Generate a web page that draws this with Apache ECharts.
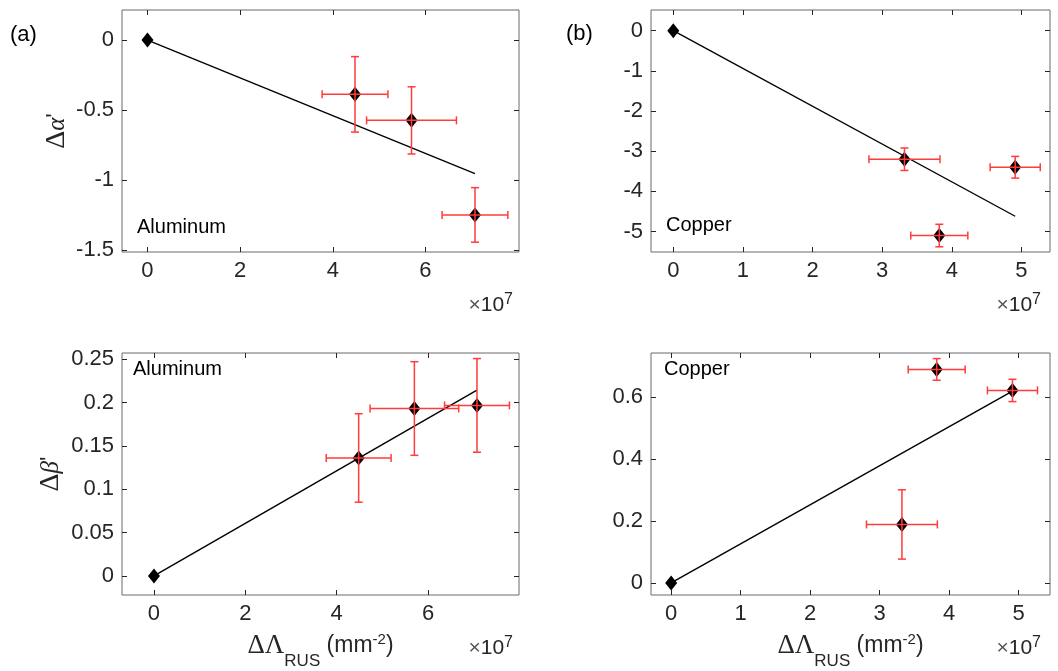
<!DOCTYPE html>
<html><head><meta charset="utf-8">
<script src="https://cdn.jsdelivr.net/npm/echarts@6/dist/echarts.min.js"></script>
<style>html,body{margin:0;padding:0;background:#fff}#c{width:1058px;height:671px}</style>
</head><body><div id="c"></div>
<script>
// ---- data (x in units of 1e7 mm^-2) ----
const alX = [0, 4.48, 5.70, 7.07];
const alXErr = [0, 0.71, 0.97, 0.71];
const alAlpha = [0, -0.388, -0.574, -1.25];
const alAlphaErr = [0, 0.27, 0.24, 0.195];
const alBeta = [0, 0.136, 0.193, 0.1966];
const alBetaErr = [0, 0.051, 0.054, 0.054];
const alFitX = [0, 7.07];
const alFitAlpha = [0, -0.955];
const alFitBeta = [0, 0.2143];

const cuX = [0, 3.32, 3.82, 4.91];
const cuXErr = [0, 0.51, 0.41, 0.36];
const cuAlpha = [0, -3.2, -5.1, -3.4];
const cuAlphaErr = [0, 0.28, 0.28, 0.27];
const cuBeta = [0, 0.189, 0.690, 0.622];
const cuBetaErr = [0, 0.112, 0.035, 0.036];
const cuFitX = [0, 4.91];
const cuFitAlpha = [0, -4.62];
const cuFitBeta = [0, 0.62];

const alXTicks = [0, 2, 4, 6];
const cuXTicks = [0, 1, 2, 3, 4, 5];
const alAlphaTicks = [-1.5, -1, -0.5, 0];
const cuAlphaTicks = [-5, -4, -3, -2, -1, 0];
const alBetaTicks = [0, 0.05, 0.1, 0.15, 0.2, 0.25];
const cuBetaTicks = [0, 0.2, 0.4, 0.6];

const panelLabels = ['(a)', '(b)'];
const materials = ['Aluminum', 'Copper'];

// ---- styling ----
const FONT = '"Liberation Sans", Arial, Helvetica, sans-serif';
const SERIF = '"Liberation Serif", "Times New Roman", serif';
const TXT = '#262626';
const BOX = '#6a6a6a';

const panels = [
  { grid: {left:122, top:10, width:397, height:242}, xr:[-0.55, 8.02], yr:[-1.515, 0.215],
    xt: alXTicks, yt: alAlphaTicks, xs: alX, xe: alXErr, ys: alAlpha, ye: alAlphaErr,
    fx: alFitX, fy: alFitAlpha, yname: '{g|Δ}{a|α}{t|\'}', ygap: 49, xname: false },
  { grid: {left:651, top:10, width:399, height:242}, xr:[-0.32, 5.41], yr:[-5.51, 0.515],
    xt: cuXTicks, yt: cuAlphaTicks, xs: cuX, xe: cuXErr, ys: cuAlpha, ye: cuAlphaErr,
    fx: cuFitX, fy: cuFitAlpha, yname: '', xname: false },
  { grid: {left:122, top:353, width:397, height:242}, xr:[-0.70, 7.99], yr:[-0.022, 0.257],
    xt: alXTicks, yt: alBetaTicks, xs: alX, xe: alXErr, ys: alBeta, ye: alBetaErr,
    fx: alFitX, fy: alFitBeta, yname: '{g|Δ}{a|β}{t|\'}', ygap: 55, xname: true },
  { grid: {left:651, top:353, width:399, height:242}, xr:[-0.29, 5.45], yr:[-0.039, 0.743],
    xt: cuXTicks, yt: cuBetaTicks, xs: cuX, xe: cuXErr, ys: cuBeta, ye: cuBetaErr,
    fx: cuFitX, fy: cuFitBeta, yname: '', xname: true }
];

const xNameRich = {
  g: {fontFamily: SERIF, fontSize: 27, lineHeight: 48, color: TXT},
  t: {fontFamily: FONT, fontSize: 23, lineHeight: 48, color: TXT},
  sub: {fontFamily: FONT, fontSize: 17, lineHeight: 17, verticalAlign: 'bottom', color: TXT},
  sup: {fontFamily: FONT, fontSize: 15, verticalAlign: 'top', padding: [10, 0, 0, 0], color: TXT}
};
const yNameRich = {
  g: {fontFamily: SERIF, fontSize: 28, lineHeight: 32, color: TXT},
  a: {fontFamily: SERIF, fontStyle: 'italic', fontSize: 25, lineHeight: 32, color: TXT},
  t: {fontFamily: FONT, fontSize: 23, lineHeight: 32, color: TXT}
};

function axis(pos, gi, range, ticks, showLabel, extra) {
  return Object.assign({
    type: 'value', gridIndex: gi, position: pos, min: range[0], max: range[1],
    axisLine: {show: false, onZero: false}, splitLine: {show: false},
    axisTick: {show: true, inside: true, length: 5, customValues: ticks,
               lineStyle: {color: TXT, width: 1}},
    axisLabel: {show: showLabel, customValues: ticks, color: TXT, fontSize: 22,
                fontFamily: FONT, margin: 8}
  }, extra || {});
}

function errSeries(xi, yi, xs, ys, xe, ye) {
  return {
    type: 'custom', xAxisIndex: xi, yAxisIndex: yi, z: 5, silent: true,
    data: xs.map((x, i) => [x, ys[i], xe[i], ye[i]]),
    renderItem(params, api) {
      const x = api.value(0), y = api.value(1), dx = api.value(2), dy = api.value(3);
      if (!dx && !dy) return null;
      const c = api.coord([x, y]);
      const l = api.coord([x - dx, y]), r = api.coord([x + dx, y]);
      const t = api.coord([x, y + dy]), b = api.coord([x, y - dy]);
      const cap = 4;
      const st = {stroke: '#ff3b3b', lineWidth: 1.5};
      const ln = (x1, y1, x2, y2) => ({type: 'line', shape: {x1, y1, x2, y2}, style: st});
      return {type: 'group', children: [
        ln(l[0], c[1], r[0], c[1]),
        ln(l[0], c[1] - cap, l[0], c[1] + cap),
        ln(r[0], c[1] - cap, r[0], c[1] + cap),
        ln(c[0], t[1], c[0], b[1]),
        ln(c[0] - cap, t[1], c[0] + cap, t[1]),
        ln(c[0] - cap, b[1], c[0] + cap, b[1])
      ]};
    }
  };
}

const grids = [], xAxes = [], yAxes = [], series = [], graphics = [];
panels.forEach((p, i) => {
  grids.push(Object.assign({show: true, borderColor: BOX, borderWidth: 1, backgroundColor: '#fff'}, p.grid));
  const xExtra = p.xname ? {
    name: '{g|ΔΛ}{sub|RUS}{t| (mm}{sup|-2}{t|)}', nameLocation: 'middle', nameGap: 27,
    nameTextStyle: {rich: xNameRich}
  } : {};
  xAxes.push(axis('bottom', i, p.xr, p.xt, true, xExtra));
  xAxes.push(axis('top', i, p.xr, p.xt, false));
  const yExtra = p.yname ? {
    name: p.yname, nameLocation: 'middle', nameRotate: 90, nameGap: p.ygap,
    nameTextStyle: {rich: yNameRich}
  } : {};
  yAxes.push(axis('left', i, p.yr, p.yt, true, yExtra));
  yAxes.push(axis('right', i, p.yr, p.yt, false));

  series.push({
    type: 'line', xAxisIndex: 2 * i, yAxisIndex: 2 * i, z: 2, silent: true,
    data: p.fx.map((x, k) => [x, p.fy[k]]), symbol: 'none',
    lineStyle: {color: '#000', width: 1.4}
  });
  series.push({
    type: 'scatter', xAxisIndex: 2 * i, yAxisIndex: 2 * i, z: 3, silent: true,
    data: p.xs.map((x, k) => [x, p.ys[k]]), symbol: 'diamond', symbolSize: [12, 15],
    itemStyle: {color: '#000', opacity: 1}
  });
  series.push(errSeries(2 * i, 2 * i, p.xs, p.ys, p.xe, p.ye));

  // x10^7 exponent label
  const right = p.grid.left + p.grid.width - (i % 2 === 0 ? 6 : 9);
  const ymid = p.grid.top + p.grid.height + 53;
  graphics.push({
    type: 'text', z: 10,
    style: {
      x: right, y: ymid, align: 'right', verticalAlign: 'middle',
      text: '{x|×}{n|10}{s|7}',
      rich: {
        x: {fontFamily: FONT, fontSize: 21, lineHeight: 26, fill: '#555'},
        n: {fontFamily: FONT, fontSize: 21, lineHeight: 26, fill: TXT},
        s: {fontFamily: FONT, fontSize: 16, lineHeight: 18, verticalAlign: 'top', fill: TXT}
      }
    }
  });
});

// panel letters
graphics.push({type: 'text', style: {x: 10, y: 35, text: panelLabels[0], fontFamily: FONT, fontSize: 22, fill: '#000', verticalAlign: 'middle'}});
graphics.push({type: 'text', style: {x: 566, y: 34, text: panelLabels[1], fontFamily: FONT, fontSize: 22, fill: '#000', verticalAlign: 'middle'}});
// material labels
const matPos = [[137, 227, 0], [666, 225, 1], [133, 369, 0], [664, 369, 1]];
matPos.forEach(m => graphics.push({type: 'text', z: 10, style: {x: m[0], y: m[1], text: materials[m[2]], fontFamily: FONT, fontSize: 20, fill: '#000', verticalAlign: 'middle'}}));

const chart = echarts.init(document.getElementById('c'), null, {renderer: 'canvas'});
chart.setOption({
  animation: false,
  backgroundColor: '#fff',
  grid: grids, xAxis: xAxes, yAxis: yAxes, series: series, graphic: graphics
});
</script></body></html>
